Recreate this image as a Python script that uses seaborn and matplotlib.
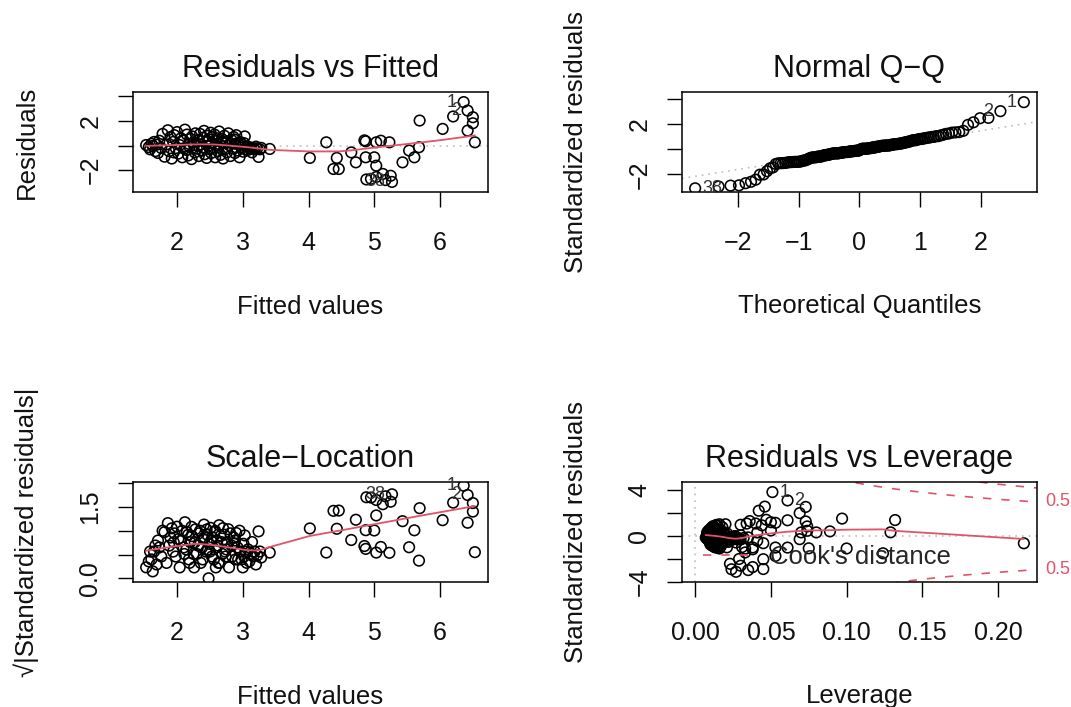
import numpy as np
import pandas as pd
import matplotlib
matplotlib.use("Agg")
import matplotlib.pyplot as plt
import seaborn as sns
from matplotlib.transforms import blended_transform_factory
from matplotlib.lines import Line2D
from statistics import NormalDist

# ---------------- data ----------------
fitted = [
    6.36, 6.42, 6.50, 6.20, 5.69, 6.50, 6.04, 6.42, 6.53, 4.65,
    3.41, 4.02, 4.27, 4.43, 4.38, 4.46, 4.72, 4.87, 4.87, 5.00,
    5.03, 5.10, 5.23, 5.03, 4.88, 4.95, 5.03, 5.13, 5.25, 5.17,
    5.43, 5.53, 5.61, 5.68, 4.85, 1.53, 1.57, 5.27,
    1.59, 1.61, 1.63, 1.65, 1.67, 1.69, 1.71, 1.73, 1.76, 1.78, 1.81, 1.84,
    1.86, 1.88, 1.90, 1.92, 1.94, 1.95, 1.96, 1.98, 2.00, 2.02,
    2.04, 2.06, 2.08, 2.10, 2.11, 2.12, 2.14, 2.15, 2.17, 2.18, 2.19, 2.20,
    2.22, 2.23, 2.25, 2.26, 2.27, 2.28, 2.30, 2.32, 2.33, 2.35,
    2.36, 2.38, 2.39, 2.40, 2.41, 2.42, 2.44, 2.45, 2.46, 2.47,
    2.48, 2.49, 2.50, 2.51, 2.52, 2.53, 2.54,
    2.56, 2.57, 2.58, 2.59, 2.60, 2.61, 2.62, 2.63, 2.64, 2.65,
    2.66, 2.68, 2.69, 2.70, 2.72, 2.73, 2.74, 2.75, 2.76, 2.78,
    2.79, 2.81, 2.83, 2.84, 2.86, 2.87, 2.88, 2.89,
    2.90, 2.92, 2.93, 2.95, 2.96, 2.98, 3.00, 3.01, 3.02, 3.03,
    3.04, 3.06, 3.08, 3.10, 3.12, 3.14, 3.16, 3.18, 3.20, 3.22,
    3.24, 3.26, 3.28,
]
residuals = [
    3.54, 2.85, 2.31, 2.37, 2.04, 1.82, 1.36, 1.22, 0.27, -0.55,
    -0.27, -1.00, 0.27, -1.00, -1.90, -1.90, -1.36, 0.35, -0.95, -0.95,
    0.27, 0.40, 0.27, -1.63, -2.75, -2.70, -2.55, -2.30, -2.45, -2.80,
    -1.36, -0.40, -0.95, -0.13, 0.43, 0.05, -0.12, -2.95,
    -0.30, 0.15, -0.02, 0.30, -0.45, 0.08, -0.60, 0.40, -0.20, 0.95, -0.90, 0.10,
    1.25, -0.45, 0.70, -1.05, 0.30, -0.55, 0.85, -0.20, 1.10, -0.65,
    0.05, 0.60, -0.95, 0.40, -0.25, 1.30, -0.35, 0.90, -0.80, 0.15, -0.10, 0.55,
    -1.10, 0.75, 0.25, 0.05, -0.55, 1.00, -0.25, 0.45, -0.85, 0.95,
    0.10, -0.40, -0.15, 0.65, 1.20, -0.70, 0.30, -1.00, 0.80, 0.35,
    0.00, 0.50, -0.30, 1.05, -0.60, 0.20, 0.70,
    -0.15, 0.90, -0.95, 0.05, 0.40, 0.60, -0.45, -0.10, 1.15, 0.10,
    -0.75, 0.55, 0.25, -1.05, 0.80, -0.30, 0.20, 0.35, -0.55, 1.00,
    0.05, -0.85, 0.45, -0.20, 0.70, 0.50, -0.60, 0.15,
    0.85, -0.40, 0.15, -0.95, 0.30, -0.15, 0.05, -0.50, 0.20, 0.75,
    -0.30, -0.10, -0.35, -0.12, -0.25, -0.55, -0.20, -0.30, -0.08, -0.22,
    -0.92, -0.30, -0.18,
]
leverage = [
    0.051, 0.061, 0.073, 0.046, 0.042, 0.069, 0.097, 0.132, 0.129, 0.217,
    0.069, 0.100, 0.080, 0.075, 0.029, 0.045, 0.124, 0.089, 0.061, 0.038,
    0.070, 0.074, 0.041, 0.053, 0.024, 0.045, 0.038, 0.023, 0.030, 0.035,
    0.033, 0.041, 0.053, 0.035, 0.050, 0.030, 0.024, 0.027,
    0.022, 0.019, 0.026, 0.017, 0.021, 0.015, 0.018, 0.016, 0.014, 0.020, 0.013, 0.012,
    0.061, 0.013, 0.012, 0.016, 0.011, 0.010, 0.014, 0.010, 0.050, 0.011,
    0.009, 0.012, 0.013, 0.009, 0.008, 0.047, 0.010, 0.014, 0.011, 0.008, 0.009, 0.010,
    0.038, 0.012, 0.009, 0.008, 0.010, 0.034, 0.008, 0.009, 0.012, 0.016,
    0.008, 0.009, 0.007, 0.011, 0.036, 0.010, 0.008, 0.015, 0.012, 0.009,
    0.008, 0.010, 0.009, 0.053, 0.045, 0.008, 0.011,
    0.009, 0.030, 0.014, 0.008, 0.010, 0.012, 0.011, 0.009, 0.073, 0.010,
    0.013, 0.012, 0.011, 0.033, 0.015, 0.012, 0.011, 0.013, 0.014, 0.040,
    0.012, 0.017, 0.015, 0.014, 0.018, 0.016, 0.017, 0.015,
    0.044, 0.018, 0.017, 0.021, 0.019, 0.018, 0.020, 0.022, 0.021, 0.074,
    0.022, 0.023, 0.024, 0.023, 0.025, 0.027, 0.026, 0.028, 0.027, 0.029,
    0.031, 0.030, 0.032,
]
sigma = 0.96            # residual standard error of the fit
n_coef = 5              # number of model coefficients (for Cook's contours)
cook_levels = [0.5, 1.0]
id_points = [0, 1, 37]  # observations 1, 2 and 38
cook_id_points = [0, 1]

titles = ["Residuals vs Fitted", "Normal Q\u2212Q", "Scale\u2212Location", "Residuals vs Leverage"]
xlabels = ["Fitted values", "Theoretical Quantiles", "Fitted values", "Leverage"]
ylabels = ["Residuals", "Standardized residuals", "\u221a|Standardized residuals|", "Standardized residuals"]

fit_xticks = [2, 3, 4, 5, 6]
fit_xticklabels = ["2", "3", "4", "5", "6"]
resid_yticks = [-2, 0, 2, 4]
resid_yticklabels = ["\u22122", "", "2", ""]
qq_xticks = [-2, -1, 0, 1, 2]
qq_xticklabels = ["\u22122", "\u22121", "0", "1", "2"]
qq_yticks = [-2, 0, 2, 4]
qq_yticklabels = ["\u22122", "", "2", ""]
sl_yticks = [0.0, 0.5, 1.0, 1.5, 2.0]
sl_yticklabels = ["0.0", "", "", "1.5", ""]
lev_xticks = [0.0, 0.05, 0.10, 0.15, 0.20]
lev_xticklabels = ["0.00", "0.05", "0.10", "0.15", "0.20"]
lev_yticks = [-4, -2, 0, 2, 4]
lev_yticklabels = ["\u22124", "", "0", "", "4"]

assert len(fitted) == len(residuals) == len(leverage)

# ---------------- helpers ----------------
RED = "#DF536B"
GRAY = "#BEBEBE"


def lowess(x, y, f=2 / 3, iters=3):
    x = np.asarray(x, float)
    y = np.asarray(y, float)
    o = np.argsort(x, kind="mergesort")
    x, y = x[o], y[o]
    n = len(x)
    ns = max(min(int(round(f * n)), n), 2)
    rw = np.ones(n)
    fit = np.zeros(n)
    for it in range(iters + 1):
        for i in range(n):
            d = np.abs(x - x[i])
            h = np.sort(d)[ns - 1]
            h = max(h, 1e-12)
            u = np.clip(d / h, 0, 1)
            w = (1 - u ** 3) ** 3 * rw
            sw = w.sum()
            xm = (w * x).sum() / sw
            ym = (w * y).sum() / sw
            b = (w * (x - xm) ** 2).sum()
            slope = (w * (x - xm) * (y - ym)).sum() / b if b > 1e-12 else 0.0
            fit[i] = ym + slope * (x[i] - xm)
        if it == iters:
            break
        res = y - fit
        m = np.median(np.abs(res))
        if m == 0:
            break
        r = np.clip(np.abs(res) / (6 * m), 0, 1)
        rw = (1 - r ** 2) ** 2
    return x, fit


def rlim(lo, hi):
    d = hi - lo
    return lo - 0.04 * d, hi + 0.04 * d


def style(ax, xt, xtl, yt, ytl, title, xlab, ylab):
    ax.set_xticks(xt)
    ax.set_xticklabels(xtl)
    ax.set_yticks(yt)
    ax.set_yticklabels(ytl)
    ax.tick_params(axis="both", direction="out", length=11, width=1.0,
                   color="black", labelsize=18, labelcolor="#111111")
    ax.tick_params(axis="x", pad=17)
    ax.tick_params(axis="y", pad=11, labelrotation=90)
    for lab in ax.get_yticklabels():
        lab.set_va("center")
    for s in ax.spines.values():
        s.set_visible(True)
        s.set_linewidth(1.1)
        s.set_color("black")
    ax.set_title(title, fontsize=22, y=1.15, pad=0, color="#111111")
    ax.set_xlabel(xlab, fontsize=18.5, color="#111111")
    ax.set_ylabel(ylab, fontsize=18.5, color="#111111")
    ax.xaxis.set_label_coords(0.5, -1.145)
    ax.xaxis.label.set_va("center")
    ax.yaxis.set_label_coords(-0.300, 0.5)
    ax.yaxis.label.set_va("center")
    ax.yaxis.label.set_ha("center")
    ax.yaxis.label.set_rotation_mode("anchor")
    ax.grid(False)


def points(ax, x, y):
    sns.scatterplot(x=x, y=y, ax=ax, marker="o", s=58, facecolor="none",
                    edgecolor="black", linewidth=1.15, legend=False, zorder=3)


def smooth(ax, x, y):
    xs, ys = lowess(x, y)
    sns.lineplot(x=xs, y=ys, ax=ax, color=RED, linewidth=1.3, sort=False,
                 estimator=None, legend=False, zorder=4)


def label_ids(ax, x, y, idx, mid):
    for i in idx:
        right = x[i] < mid
        ax.annotate(str(i + 1), (x[i], y[i]), xytext=(5 if right else -5, 0),
                    textcoords="offset points", ha="left" if right else "right",
                    va="center", fontsize=13, color="#333333", zorder=5)


# ---------------- derived quantities ----------------
f_arr = np.array(fitted)
r_arr = np.array(residuals)
h_arr = np.array(leverage)
std = r_arr / (sigma * np.sqrt(1 - h_arr))
sqrt_abs = np.sqrt(np.abs(std))
n = len(std)
nd = NormalDist()
a = 0.5 if n > 10 else 3 / 8
probs = (np.arange(1, n + 1) - a) / (n + 1 - 2 * a)
theo_sorted = np.array([nd.inv_cdf(p) for p in probs])
order = np.argsort(std, kind="mergesort")
qq_x = np.empty(n)
qq_x[order] = theo_sorted

# ---------------- figure ----------------
sns.set_style("ticks")
plt.rcParams["font.family"] = ["Liberation Sans", "DejaVu Sans"]
plt.rcParams["axes.unicode_minus"] = True

fig = plt.figure(figsize=(10.71, 7.07), dpi=100)
W, H = 1071, 707


def rect(l, t, r, b):
    return [l / W, 1 - b / H, (r - l) / W, (b - t) / H]


ax1 = fig.add_axes(rect(133, 92, 488, 192))
ax2 = fig.add_axes(rect(682, 92, 1037, 192))
ax3 = fig.add_axes(rect(133, 482, 488, 582))
ax4 = fig.add_axes(rect(682, 482, 1037, 582))

# Panel 1: Residuals vs Fitted
xl = rlim(f_arr.min(), f_arr.max())
lo, hi = r_arr.min(), r_arr.max()
d = hi - lo
yl = rlim(lo - 0.08 * d, hi + 0.08 * d)
ax1.axhline(0, color=GRAY, lw=1.2, ls=(0, (1, 3)), zorder=1)
points(ax1, f_arr, r_arr)
smooth(ax1, f_arr, r_arr)
ax1.set_xlim(xl)
ax1.set_ylim(yl)
label_ids(ax1, f_arr, r_arr, id_points, np.mean([f_arr.min(), f_arr.max()]))
style(ax1, fit_xticks, fit_xticklabels, resid_yticks, resid_yticklabels,
      titles[0], xlabels[0], ylabels[0])

# Panel 2: Normal Q-Q
q1, q3 = np.quantile(std, [0.25, 0.75])
x1, x3 = nd.inv_cdf(0.25), nd.inv_cdf(0.75)
slope = (q3 - q1) / (x3 - x1)
icpt = q1 - slope * x1
ax2.axline((0, icpt), slope=slope, color=GRAY, lw=1.2, ls=(0, (1, 3)), zorder=1)
points(ax2, qq_x, std)
lo, hi = std.min(), std.max()
hi = hi + 0.075 * (hi - lo)
ax2.set_ylim(rlim(lo, hi))
ax2.set_xlim(rlim(qq_x.min(), qq_x.max()))
label_ids(ax2, qq_x, std, id_points, 0.0)
style(ax2, qq_xticks, qq_xticklabels, qq_yticks, qq_yticklabels,
      titles[1], xlabels[1], ylabels[1])

# Panel 3: Scale-Location
points(ax3, f_arr, sqrt_abs)
smooth(ax3, f_arr, sqrt_abs)
ax3.set_xlim(xl)
ax3.set_ylim(rlim(0, sqrt_abs.max()))
label_ids(ax3, f_arr, sqrt_abs, id_points, np.mean([f_arr.min(), f_arr.max()]))
style(ax3, fit_xticks, fit_xticklabels, sl_yticks, sl_yticklabels,
      titles[2], xlabels[2], ylabels[2])

# Panel 4: Residuals vs Leverage
xl4 = rlim(0, h_arr.max())
lo, hi = std.min(), std.max()
d = hi - lo
yl4 = rlim(lo - 0.08 * d, hi + 0.08 * d)
ax4.axhline(0, color=GRAY, lw=1.2, ls=(0, (1, 3)), zorder=1)
ax4.axvline(0, color=GRAY, lw=1.2, ls=(0, (1, 3)), zorder=1)
hh = np.linspace(min(h_arr[0], h_arr[1] / 100), xl4[1], 101)
for lev in cook_levels:
    cl = np.sqrt(lev * n_coef * (1 - hh) / hh)
    ax4.plot(hh, cl, color=RED, lw=1.2, ls=(0, (5, 6)), zorder=2)
    ax4.plot(hh, -cl, color=RED, lw=1.2, ls=(0, (5, 6)), zorder=2)
points(ax4, h_arr, std)
smooth(ax4, h_arr, std)
ax4.set_xlim(xl4)
ax4.set_ylim(yl4)
label_ids(ax4, h_arr, std, cook_id_points, np.mean([h_arr.min(), h_arr.max()]))
style(ax4, lev_xticks, lev_xticklabels, lev_yticks, lev_yticklabels,
      titles[3], xlabels[3], ylabels[3])

# Cook's distance level labels on the right margin (skip overlapping ones)
aty = [np.sqrt(lev * n_coef * (1 - xl4[1]) / xl4[1]) for lev in cook_levels]
lab_pos = [(-v, lev) for v, lev in zip(aty[::-1], cook_levels[::-1])] + list(zip(aty, cook_levels))
px_per_unit = 100 / (yl4[1] - yl4[0])
trans = blended_transform_factory(ax4.transAxes, ax4.transData)
last = None
for yv, lev in lab_pos:
    if yv < yl4[0] or yv > yl4[1]:
        continue
    if last is not None and abs(yv - last) * px_per_unit < 18:
        continue
    ax4.text(1.0 + 8 / 355, yv, f"{lev:g}", transform=trans, ha="left", va="center",
             color=RED, fontsize=13, clip_on=False)
    last = yv

handle = Line2D([], [], color=RED, lw=1.2, ls=(0, (5, 6)))
ax4.legend([handle], ["Cook's distance"], loc="center left",
           bbox_to_anchor=(21 / 355, 0.25), frameon=False, fontsize=18.5,
           handlelength=1.8, handletextpad=0.8, borderaxespad=0, borderpad=0)

fig.savefig("out.png", dpi=100)
